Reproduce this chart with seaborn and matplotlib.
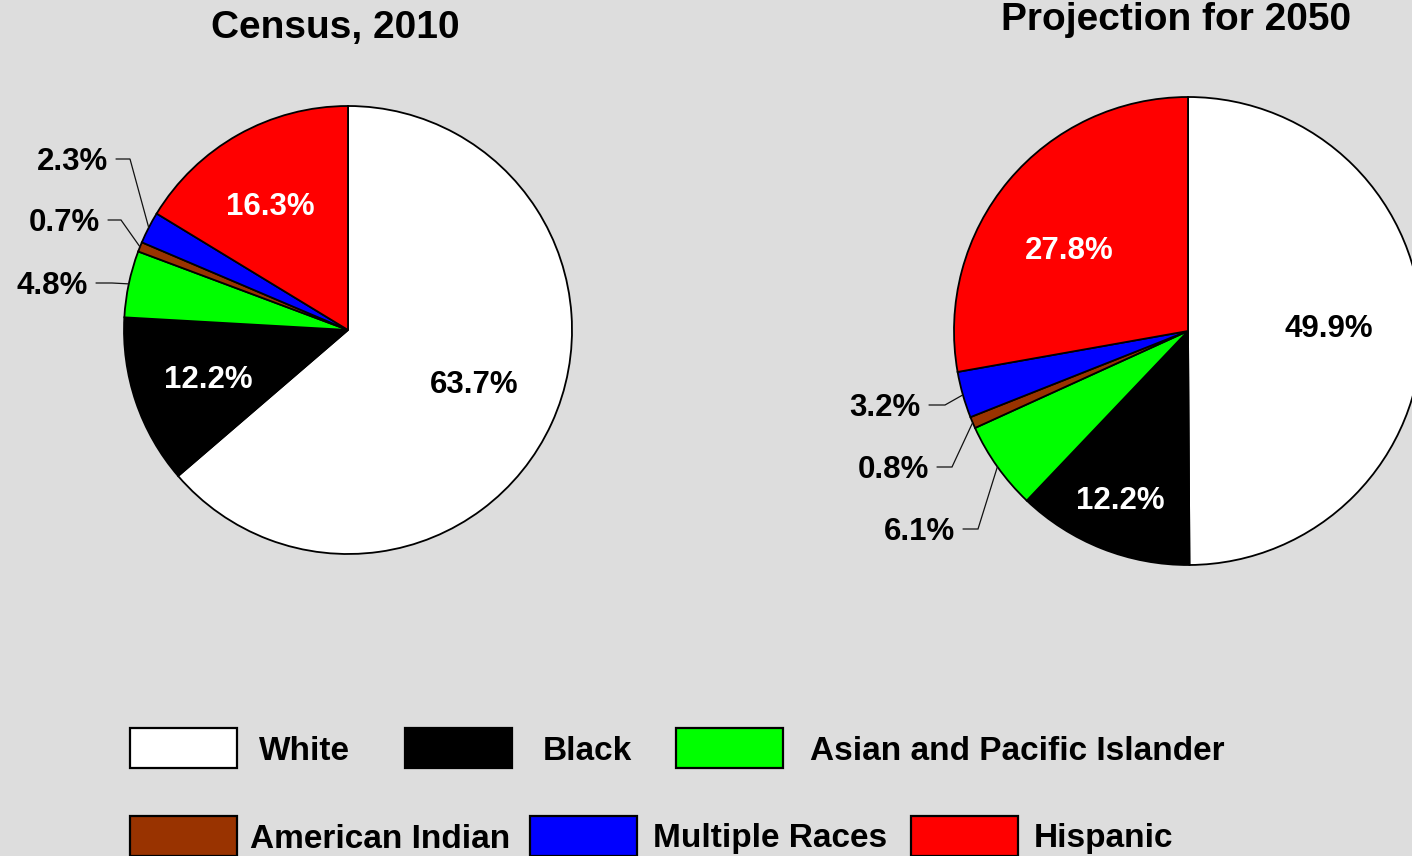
#!/usr/bin/env python3
"""
Two pie charts: US population by race/ethnicity, Census 2010 vs projection for 2050.
Saves out.png (1412x856).
"""
import numpy as np
import matplotlib
matplotlib.use('Agg')
import matplotlib.pyplot as plt
from matplotlib.patches import Rectangle
import seaborn as sns

# ---- data ----
categories = ['White', 'Black', 'Asian and Pacific Islander',
              'American Indian', 'Multiple Races', 'Hispanic']
slice_colors = ['#ffffff', '#000000', '#00ff00', '#993300', '#0000ff', '#ff0000']
label_colors = ['black', 'white', 'black', 'black', 'black', 'white']
share_2010 = [63.7, 12.2, 4.8, 0.7, 2.3, 16.3]
share_2050 = [49.9, 12.2, 6.1, 0.8, 3.2, 27.8]
titles = ['Census, 2010', 'Projection for 2050']

# ---- layout (pixel coordinates, y measured from the top) ----
W, H = 1412, 856
BG = '#dddddd'
TXT_DY = 3  # matplotlib's 'center' sits a bit high for digits/caps
pie_layout = [
    dict(center=(348, 330), radius=224, title_xy=(335, 25),
         # slice index -> (radius fraction, angle nudge in degrees)
         inner={0: (0.61, 2.4), 1: (0.66, 0.0), 5: (0.66, 2.5)},
         # slice index -> (text right x, text y, elbow x)
         outer={2: (88, 283, 112), 3: (100, 220, 121), 4: (108, 159, 130)}),
    dict(center=(1188, 331), radius=234, title_xy=(1176, 17),
         inner={0: (0.60, 1.8), 1: (0.77, -0.3), 5: (0.62, 4.9)},
         outer={2: (955, 529, 978), 3: (929, 467, 952), 4: (921, 405, 945)}),
]
legend_rows = [
    dict(y=748, boxes=[130, 405, 676], texts=[259, 543, 810], idx=[0, 1, 2]),
    dict(y=836, boxes=[130, 530, 911], texts=[250, 653, 1034], idx=[3, 4, 5]),
]
BOX_W, BOX_H = 107, 40


def py(y):
    return H - y


def draw_pie(ax, values, title, lay):
    cx, cy = lay['center'][0], py(lay['center'][1])
    r = lay['radius']
    wedges, _ = ax.pie(values, colors=slice_colors, startangle=90, counterclock=False,
                       radius=r, center=(cx, cy), frame=False,
                       wedgeprops=dict(edgecolor='black', linewidth=1.3))
    for i, w in enumerate(wedges):
        mid_deg = (w.theta1 + w.theta2) / 2
        txt = f'{values[i]:.1f}%'
        if i in lay['inner']:
            f, nudge = lay['inner'][i]
            a = np.deg2rad(mid_deg + nudge)
            ax.text(cx + f * r * np.cos(a), cy + f * r * np.sin(a) - TXT_DY, txt,
                    ha='center', va='center', fontsize=22.5, fontweight='bold',
                    color=label_colors[i])
        elif i in lay['outer']:
            tx, ty, ex = lay['outer'][i]
            a = np.deg2rad(mid_deg)
            edge = (cx + r * np.cos(a), cy + r * np.sin(a))
            ax.plot([tx + 8, ex, edge[0]], [py(ty), py(ty), edge[1]],
                    color='#111111', linewidth=0.9, solid_joinstyle='miter')
            ax.text(tx, py(ty) - TXT_DY, txt, ha='right', va='center', fontsize=22.5,
                    fontweight='bold', color='black')
    ax.text(lay['title_xy'][0], py(lay['title_xy'][1]) - TXT_DY, title,
            ha='center', va='center', fontsize=28, fontweight='bold', color='black')


def main():
    sns.set_theme(style='white', rc={'figure.facecolor': BG, 'axes.facecolor': BG,
                                     'text.color': 'black'})
    plt.rcParams['font.family'] = ['Liberation Sans', 'DejaVu Sans']

    fig = plt.figure(figsize=(W / 100, H / 100), dpi=100)
    ax = fig.add_axes([0, 0, 1, 1])

    for values, title, lay in zip([share_2010, share_2050], titles, pie_layout):
        draw_pie(ax, values, title, lay)

    # legend drawn as two free rows, like the original
    for row in legend_rows:
        for bx, tx, i in zip(row['boxes'], row['texts'], row['idx']):
            ax.add_patch(Rectangle((bx, py(row['y'] + BOX_H / 2)), BOX_W, BOX_H,
                                   facecolor=slice_colors[i], edgecolor='black',
                                   linewidth=1.6))
            ax.text(tx, py(row['y']) - TXT_DY, categories[i], ha='left', va='center',
                    fontsize=24, fontweight='bold', color='black')

    ax.set_xlim(0, W)
    ax.set_ylim(0, H)
    ax.set_aspect('auto')
    ax.set_axis_off()
    fig.savefig('out.png', dpi=100, facecolor=BG)
    plt.close(fig)


if __name__ == '__main__':
    main()
